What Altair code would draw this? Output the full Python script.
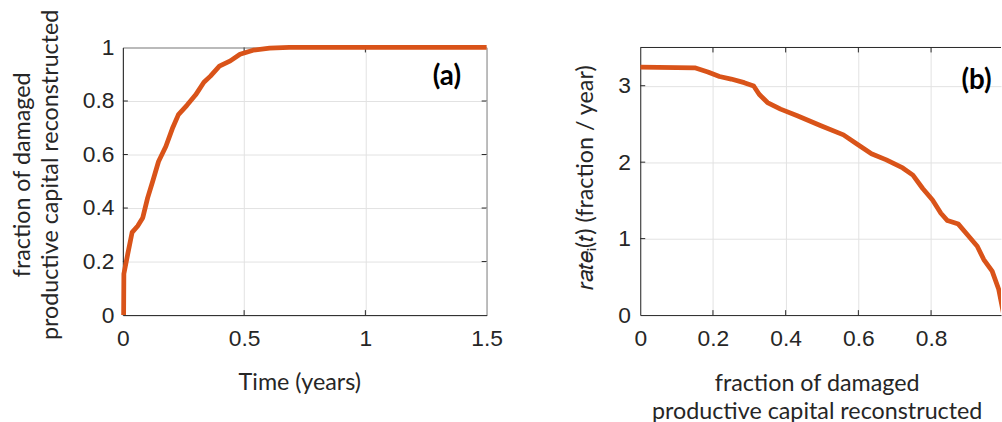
import altair as alt
import pandas as pd

# ---- data ----
# panel (a): fraction reconstructed vs time
t_years = [0.003, 0.004, 0.020, 0.038, 0.061, 0.082, 0.102, 0.123, 0.147, 0.177,
           0.204, 0.229, 0.264, 0.300, 0.334, 0.361, 0.398, 0.443, 0.483, 0.537,
           0.605, 0.686, 1.500]
frac_reconstructed = [0.0, 0.154, 0.228, 0.309, 0.333, 0.364, 0.438, 0.500, 0.574, 0.630,
                      0.697, 0.749, 0.784, 0.823, 0.870, 0.893, 0.930, 0.950, 0.975, 0.990,
                      0.998, 1.0, 1.0]

# panel (b): reconstruction rate vs fraction reconstructed
frac_axis = [0.0, 0.150, 0.186, 0.218, 0.250, 0.286, 0.312, 0.327, 0.350, 0.386,
             0.432, 0.497, 0.559, 0.595, 0.636, 0.677, 0.722, 0.750, 0.777, 0.804,
             0.827, 0.845, 0.875, 0.900, 0.927, 0.945, 0.968, 0.986, 1.0]
rate = [3.243, 3.234, 3.180, 3.120, 3.087, 3.040, 2.996, 2.888, 2.780, 2.694,
        2.607, 2.477, 2.357, 2.240, 2.110, 2.030, 1.924, 1.830, 1.656, 1.505,
        1.332, 1.236, 1.190, 1.050, 0.900, 0.726, 0.575, 0.337, 0.0]

x_ticks_a = [0, 0.5, 1, 1.5]
y_ticks_a = [0, 0.2, 0.4, 0.6, 0.8, 1]
x_ticks_b = [0, 0.2, 0.4, 0.6, 0.8, 1]
y_ticks_b = [0, 1, 2, 3]

panel_labels = ["(a)", "(b)"]

ORANGE = "#D95319"
INK = "#262626"
GRID = "#e2e2e2"
TITLE_FONT = "Lato"
LABEL_FONT = "Liberation Sans"

W_A, H = 367, 270
W_B = 364
XMAX_B = 364 / 366.8
TICK = 5

df_a = pd.DataFrame({"t": t_years, "f": frac_reconstructed})
df_b = pd.DataFrame({"f": frac_axis, "r": rate})


def ax(values, title, **kw):
    return alt.Axis(values=values, title=title, format="~g", grid=True,
                    gridColor=GRID, domainColor=INK, labelColor=INK,
                    labelFont=LABEL_FONT, labelFontSize=23, ticks=False,
                    labelFlush=False, titleFont=TITLE_FONT, titleFontSize=23.5,
                    titleFontWeight="normal", titleColor=INK, titleLineHeight=28,
                    **kw)


def inward_ticks(xvals, yvals, xfield, yfield, xscale, yscale, xaxis, yaxis, width, sides):
    """MATLAB-style inward tick marks drawn from the tick value lists."""
    layers = []
    dx = pd.DataFrame({xfield: xvals})
    dy = pd.DataFrame({yfield: yvals})
    X = alt.X(f"{xfield}:Q", scale=xscale, axis=xaxis)
    Y = alt.Y(f"{yfield}:Q", scale=yscale, axis=yaxis)
    if "bottom" in sides:
        layers.append(alt.Chart(dx).mark_rule(color=INK, strokeWidth=1).encode(
            x=X, y=alt.value(H), y2=alt.value(H - TICK)))
    if "top" in sides:
        layers.append(alt.Chart(dx).mark_rule(color=INK, strokeWidth=1).encode(
            x=X, y=alt.value(0), y2=alt.value(TICK)))
    if "left" in sides:
        layers.append(alt.Chart(dy).mark_rule(color=INK, strokeWidth=1).encode(
            y=Y, x=alt.value(0), x2=alt.value(TICK)))
    if "right" in sides:
        layers.append(alt.Chart(dy).mark_rule(color=INK, strokeWidth=1).encode(
            y=Y, x=alt.value(width - TICK), x2=alt.value(width)))
    return layers


two_line = ["fraction of damaged", "productive capital reconstructed"]

# ---------- panel (a) ----------
xs_a = alt.Scale(domain=[0, 1.5], nice=False)
ys_a = alt.Scale(domain=[0, 1], nice=False)
xax_a = ax(x_ticks_a, "Time (years)", labelPadding=13, titlePadding=20, titleX=178)
yax_a = ax(y_ticks_a, two_line, labelPadding=9, titlePadding=20, titleY=128)

line_a = alt.Chart(df_a).mark_line(color=ORANGE, strokeWidth=4.8, strokeJoin="round").encode(
    x=alt.X("t:Q", scale=xs_a, axis=xax_a),
    y=alt.Y("f:Q", scale=ys_a, axis=yax_a),
)
text_a = alt.Chart(pd.DataFrame({"lab": [panel_labels[0]]})).mark_text(
    font=TITLE_FONT, fontWeight="bold", fontSize=28, color="black", baseline="middle", align="center"
).encode(x=alt.datum(1.336), y=alt.datum(0.888), text="lab:N")

ticks_a = inward_ticks(x_ticks_a[1:-1], y_ticks_a[1:-1], "t", "f", xs_a, ys_a, xax_a, yax_a,
                       W_A, ["bottom", "top", "left", "right"])
left = alt.layer(*ticks_a, line_a, text_a).properties(
    width=W_A, height=H, view=alt.ViewBackground(stroke=INK, strokeWidth=1)
)

# ---------- panel (b) ----------
xs_b = alt.Scale(domain=[0, XMAX_B], nice=False)
ys_b = alt.Scale(domain=[0, 3.5], nice=False)
xax_b = ax(x_ticks_b, two_line, labelPadding=13, titlePadding=21, titleX=178)
yax_b = ax(y_ticks_b, "𝑟𝑎𝑡𝑒ᵢ(𝑡) (fraction / year)", labelPadding=10, titlePadding=20, titleY=131)

line_b = alt.Chart(df_b).mark_line(color=ORANGE, strokeWidth=4.8, strokeJoin="round", clip=True).encode(
    x=alt.X("f:Q", scale=xs_b, axis=xax_b),
    y=alt.Y("r:Q", scale=ys_b, axis=yax_b),
)
text_b = alt.Chart(pd.DataFrame({"lab": [panel_labels[1]]})).mark_text(
    font=TITLE_FONT, fontWeight="bold", fontSize=28, color="black", baseline="middle", align="center"
).encode(x=alt.datum(0.925), y=alt.datum(3.065), text="lab:N")
top_b = alt.Chart(pd.DataFrame({"k": [0]})).mark_rule(color=INK, strokeWidth=1).encode(
    x=alt.value(0), x2=alt.value(W_B), y=alt.value(0)
)
ticks_b = inward_ticks([v for v in x_ticks_b if 0 < v < XMAX_B], y_ticks_b[1:], "f", "r",
                       xs_b, ys_b, xax_b, yax_b, W_B, ["bottom", "top", "left"])

right = alt.layer(*ticks_b, line_b, text_b, top_b).properties(
    width=W_B, height=H, view=alt.ViewBackground(stroke="transparent")
)

chart = alt.hconcat(left, right, spacing=70).properties(
    padding={"left": 10, "top": 6, "right": 0, "bottom": 0},
    background="white",
)

chart.save("out.html", embed_options={"renderer": "svg", "actions": False})
